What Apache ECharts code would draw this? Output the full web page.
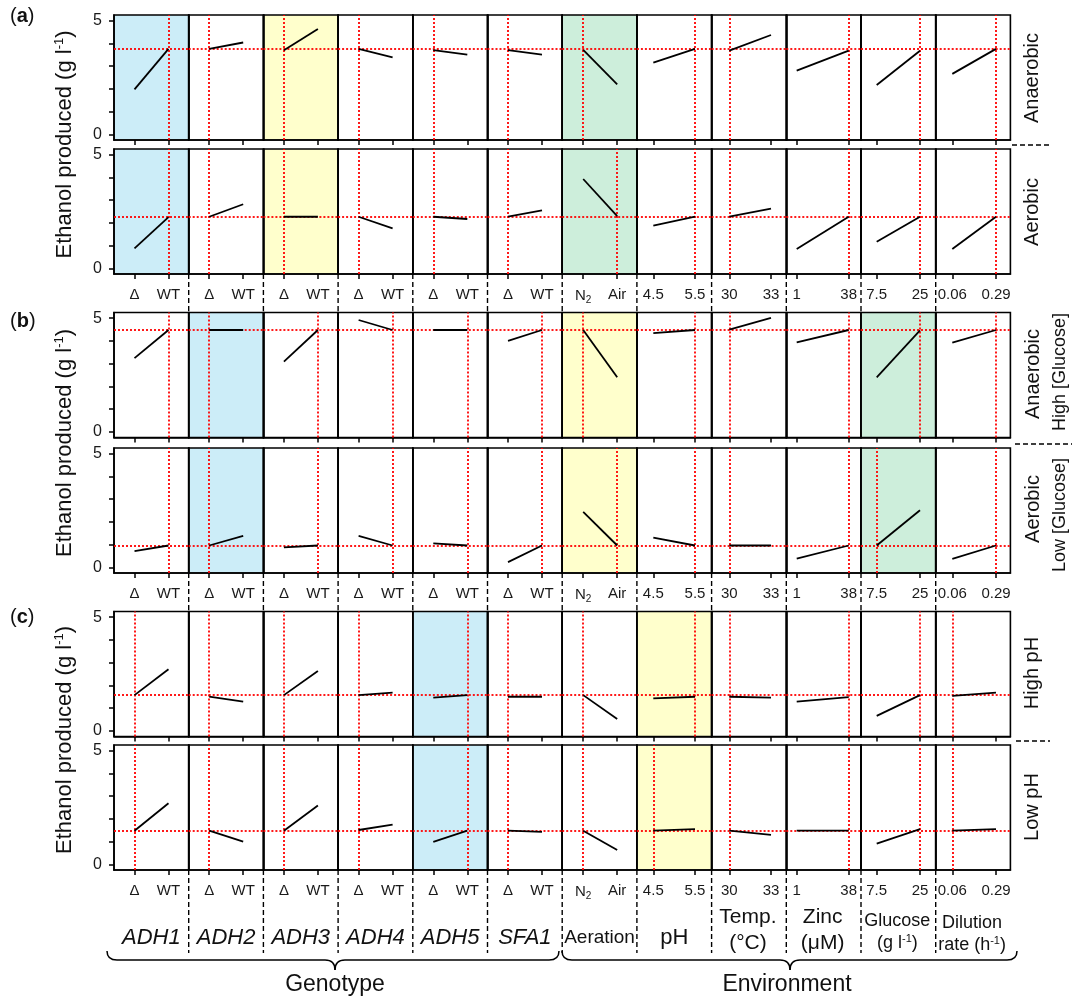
<!DOCTYPE html>
<html><head><meta charset="utf-8">
<script src="https://cdn.jsdelivr.net/npm/echarts@6/dist/echarts.min.js"></script>
<style>html,body{margin:0;padding:0;background:#fff}#c{width:1072px;height:998px}</style>
</head><body><div id="c"></div>
<script>
const FONT = '"Liberation Sans", Arial, Helvetica, sans-serif';

// ---------- DATA ----------
const factors = ['ADH1','ADH2','ADH3','ADH4','ADH5','SFA1','Aeration','pH','Temp','Zinc','Glucose','Dilution'];
const levelLabels = [['Δ','WT'],['Δ','WT'],['Δ','WT'],['Δ','WT'],['Δ','WT'],['Δ','WT'],
  ['N2','Air'],['4.5','5.5'],['30','33'],['1','38'],['7.5','25'],['0.06','0.29']];
const yTickValues = [0,1,2,3,4,5];
const yLabelValues = [0,5];
// ethanol (g/l) at [level 1, level 2] for each factor, per condition row
const anaerobicA = [[1.98,3.76],[3.76,4.04],[3.70,4.63],[3.76,3.39],[3.70,3.51],[3.70,3.51],[3.72,2.20],[3.15,3.76],[3.68,4.37],[2.80,3.68],[2.17,3.68],[2.66,3.76]];
const aerobicA   = [[0.88,2.25],[2.27,2.82],[2.27,2.27],[2.27,1.76],[2.27,2.17],[2.27,2.55],[3.93,2.30],[1.88,2.27],[2.27,2.63],[0.85,2.27],[1.17,2.27],[0.85,2.27]];
const anaerobicHighGlcB = [[3.24,4.48],[4.48,4.48],[3.09,4.48],[4.92,4.48],[4.48,4.48],[4.00,4.48],[4.48,2.40],[4.34,4.48],[4.50,5.01],[3.94,4.48],[2.40,4.46],[3.92,4.48]];
const aerobicLowGlcB    = [[0.71,0.96],[0.96,1.38],[0.88,0.96],[1.38,0.96],[1.05,0.96],[0.23,0.96],[2.44,0.96],[1.31,0.96],[0.96,0.96],[0.38,0.96],[0.96,2.51],[0.37,0.96]];
const highPhC = [[1.57,2.71],[1.50,1.28],[1.57,2.63],[1.57,1.68],[1.46,1.57],[1.50,1.50],[1.57,0.52],[1.43,1.50],[1.50,1.46],[1.28,1.48],[0.66,1.57],[1.54,1.68]];
const lowPhC  = [[1.48,2.69],[1.48,1.00],[1.48,2.59],[1.51,1.75],[0.99,1.48],[1.48,1.43],[1.48,0.63],[1.48,1.55],[1.48,1.30],[1.48,1.48],[0.91,1.55],[1.48,1.55]];
// reference (baseline) ethanol per row and which level is the reference in each panel
const rowRef = [3.76, 2.27, 4.48, 0.96, 1.57, 1.48];
const refLevel = [
  [1,0,0,0,0,0,0,1,0,1,1,1],
  [1,0,0,0,0,0,1,1,0,1,1,1],
  [1,0,1,1,1,1,0,1,0,1,1,1],
  [1,0,1,1,1,1,1,1,0,1,0,1],
  [0,0,0,0,1,0,0,1,0,1,1,0],
  [0,0,0,0,1,0,0,0,0,1,1,0]
];
const rowsData = [anaerobicA, aerobicA, anaerobicHighGlcB, aerobicLowGlcB, highPhC, lowPhC];
// highlighted factor per section
const highlight = [{0:'blue',2:'yellow',6:'green'},{1:'blue',6:'yellow',10:'green'},{4:'blue',7:'yellow'}];

// ---------- LAYOUT ----------
const GL = 114, CW = 74.7, RH = 125;
const rowTops = [15,149,312.5,448,611.5,745];
const tickOff = [[20.5,54.5],[20.5,54.5],[20.5,54.5],[20.5,54.5],[20.5,54.5],[20.5,54.5],
  [21,55],[16.4,58.1],[17.7,59.4],[10.4,62.4],[15.7,59],[16.6,60.3]];
const shadeColors = {blue:'#ccedf8', yellow:'#ffffcc', green:'#cdeedb'};

const grids=[], xAxis=[], yAxis=[], series=[];
for (let r=0;r<6;r++){
  for (let c=0;c<12;c++){
    const gi=r*12+c;
    const [a,b]=tickOff[c]; const s=b-a;
    const sh = highlight[Math.floor(r/2)][c];
    grids.push({left:GL+c*CW, top:rowTops[r], width:CW, height:RH, show:true,
      borderColor:'#000', borderWidth:1.6, backgroundColor: sh?shadeColors[sh]:'transparent'});
    const labs = levelLabels[c];
    xAxis.push({gridIndex:gi, type:'value', min:-a/s, max:(CW-a)/s, position:'bottom',
      axisLine:{show:true, onZero:false, lineStyle:{color:'#000', width:1.6}}, splitLine:{show:false},
      axisTick:{show:true, inside:false, customValues:[0,1], length:5, lineStyle:{color:'#000', width:1.5}},
      axisLabel:{show:r%2===1, customValues:[0,1], margin:13, fontSize:15, color:'#1a1a1a', fontFamily:FONT,
        formatter:function(v){ const t = v<0.5?labs[0]:labs[1]; return t==='N2' ? '{n|N}{sub|2}' : t; },
        rich:{n:{fontSize:15, fontFamily:FONT, color:'#1a1a1a', lineHeight:18},
              sub:{fontSize:10, fontFamily:FONT, color:'#1a1a1a', verticalAlign:'bottom', lineHeight:10}}}
    });
    yAxis.push({gridIndex:gi, type:'value', min:-0.25, max:5.25, position:'left',
      axisLine:{show:true, onZero:false, lineStyle:{color:'#000', width:1.6}}, splitLine:{show:false},
      axisTick:{show:c===0, inside:false, customValues:yTickValues, length:5, lineStyle:{color:'#000', width:1.5}},
      axisLabel:{show:c===0, customValues:yLabelValues, margin:12, fontSize:16, color:'#1a1a1a', fontFamily:FONT}
    });
    const v = rowsData[r][c];
    const pts = [[0,v[0]],[1,v[1]]];
    series.push({type:'line', xAxisIndex:gi, yAxisIndex:gi, data:pts, symbol:'none', silent:true,
      lineStyle:{opacity:0, width:0}, z:2,
      markLine:{silent:true, symbol:['none','none'], label:{show:false}, animation:false,
        lineStyle:{color:'#ff0000', type:[2,2], width:1.8},
        data:[{yAxis:rowRef[r]},{xAxis:refLevel[r][c]}]}});
    series.push({type:'line', xAxisIndex:gi, yAxisIndex:gi, data:pts, symbol:'none', silent:true,
      lineStyle:{color:'#000', width:1.8}, z:6});
  }
}

// ---------- GRAPHICS ----------
const g=[];
const txt=(x,y,text,size,opt={})=>g.push(Object.assign({type:'text', x, y, silent:true,
  style:Object.assign({text, font:(opt.italic?'italic ':'')+(opt.bold?'bold ':'')+size+'px '+FONT,
    fill:'#111', align:'center', verticalAlign:'middle', textAlign:'center', textVerticalAlign:'middle'}, opt.style||{})},
  opt.rot?{rotation:Math.PI/2}:{}));
[['a',16],['b',321],['c',617]].forEach(([l,y])=>g.push({type:'text', x:10, y, silent:true,
  style:{text:'{n|(}{b|'+l+'}{n|)}', verticalAlign:'middle', textVerticalAlign:'middle',
    rich:{n:{font:'20px '+FONT, fill:'#111'}, b:{font:'bold 20px '+FONT, fill:'#111'}}}}));
[144.5,443,740].forEach(y=>g.push({type:'text', x:65, y, rotation:Math.PI/2, silent:true,
  style:{text:'{n|Ethanol produced (g l}{s|-1}{n|)}', align:'center', verticalAlign:'middle', textAlign:'center', textVerticalAlign:'middle',
    rich:{n:{font:'22px '+FONT, fill:'#111', lineHeight:24}, s:{font:'13px '+FONT, fill:'#111', verticalAlign:'top', lineHeight:13}}}}));
txt(1032,78,'Anaerobic',20,{rot:true});
txt(1032,212,'Aerobic',20,{rot:true});
txt(1033,374,'Anaerobic',20,{rot:true});
txt(1060,372,'High [Glucose]',18,{rot:true});
txt(1033,509,'Aerobic',20,{rot:true});
txt(1060,515,'Low [Glucose]',18,{rot:true});
txt(1032,673,'High pH',20,{rot:true});
txt(1032,807,'Low pH',20,{rot:true});
[[145,1012,1052],[444,1015,1072],[741,1016,1050]].forEach(([y,x1,x2])=>g.push({type:'line', silent:true,
  shape:{x1,y1:y,x2,y2:y}, style:{stroke:'#000', lineWidth:1.5, lineDash:[5,3]}}));
const gaps=[[274,312.5],[573,611.5],[870,953]];
for (let c=1;c<12;c++){ const x=GL+c*CW;
  gaps.forEach(([y1,y2])=>g.push({type:'line', silent:true, shape:{x1:x,y1,x2:x,y2}, style:{stroke:'#000', lineWidth:1.4, lineDash:[5,3]}}));
}
for (let c=0;c<6;c++) txt(GL+(c+0.5)*CW, 938, factors[c], 22, {italic:true});
txt(GL+6.5*CW, 938, 'Aeration', 19);
txt(GL+7.5*CW, 938, 'pH', 22);
txt(GL+8.5*CW-1, 917, 'Temp.', 21); txt(GL+8.5*CW-1, 943, '(°C)', 21);
txt(GL+9.5*CW-1, 917, 'Zinc', 21); txt(GL+9.5*CW-1, 943, '(μM)', 21);
txt(GL+10.5*CW-1, 921, 'Glucose', 18);
g.push({type:'text', x:GL+10.5*CW-1, y:943, silent:true, style:{text:'{n|(g l}{s|-1}{n|)}', align:'center', verticalAlign:'middle', textAlign:'center', textVerticalAlign:'middle',
  rich:{n:{font:'18px '+FONT, fill:'#111', lineHeight:20}, s:{font:'11px '+FONT, fill:'#111', verticalAlign:'top', lineHeight:11}}}});
txt(GL+11.5*CW-1, 923, 'Dilution', 18);
g.push({type:'text', x:GL+11.5*CW-1, y:945, silent:true, style:{text:'{n|rate (h}{s|-1}{n|)}', align:'center', verticalAlign:'middle', textAlign:'center', textVerticalAlign:'middle',
  rich:{n:{font:'18px '+FONT, fill:'#111', lineHeight:20}, s:{font:'11px '+FONT, fill:'#111', verticalAlign:'top', lineHeight:11}}}});
function brace(x1, xm, x2){
  const st={stroke:'#000', fill:null, lineWidth:1.5};
  const yT=951, yM=960, yP=970, r=10;
  g.push({type:'bezierCurve', silent:true, shape:{x1:x1,y1:yT,x2:x1+r,y2:yM,cpx1:x1,cpy1:yM}, style:st});
  g.push({type:'line', silent:true, shape:{x1:x1+r,y1:yM,x2:xm-r,y2:yM}, style:st});
  g.push({type:'bezierCurve', silent:true, shape:{x1:xm-r,y1:yM,x2:xm,y2:yP,cpx1:xm,cpy1:yM}, style:st});
  g.push({type:'bezierCurve', silent:true, shape:{x1:xm,y1:yP,x2:xm+r,y2:yM,cpx1:xm,cpy1:yM}, style:st});
  g.push({type:'line', silent:true, shape:{x1:xm+r,y1:yM,x2:x2-r,y2:yM}, style:st});
  g.push({type:'bezierCurve', silent:true, shape:{x1:x2-r,y1:yM,x2:x2,y2:yT,cpx1:x2,cpy1:yM}, style:st});
}
brace(107,335,559);
brace(562,790,1017);
txt(335,985,'Genotype',23);
txt(787,985,'Environment',23);

const chart = echarts.init(document.getElementById('c'), null, {renderer:'canvas'});
chart.setOption({animation:false, backgroundColor:'#fff', grid:grids, xAxis, yAxis, series, graphic:g});
</script></body></html>
